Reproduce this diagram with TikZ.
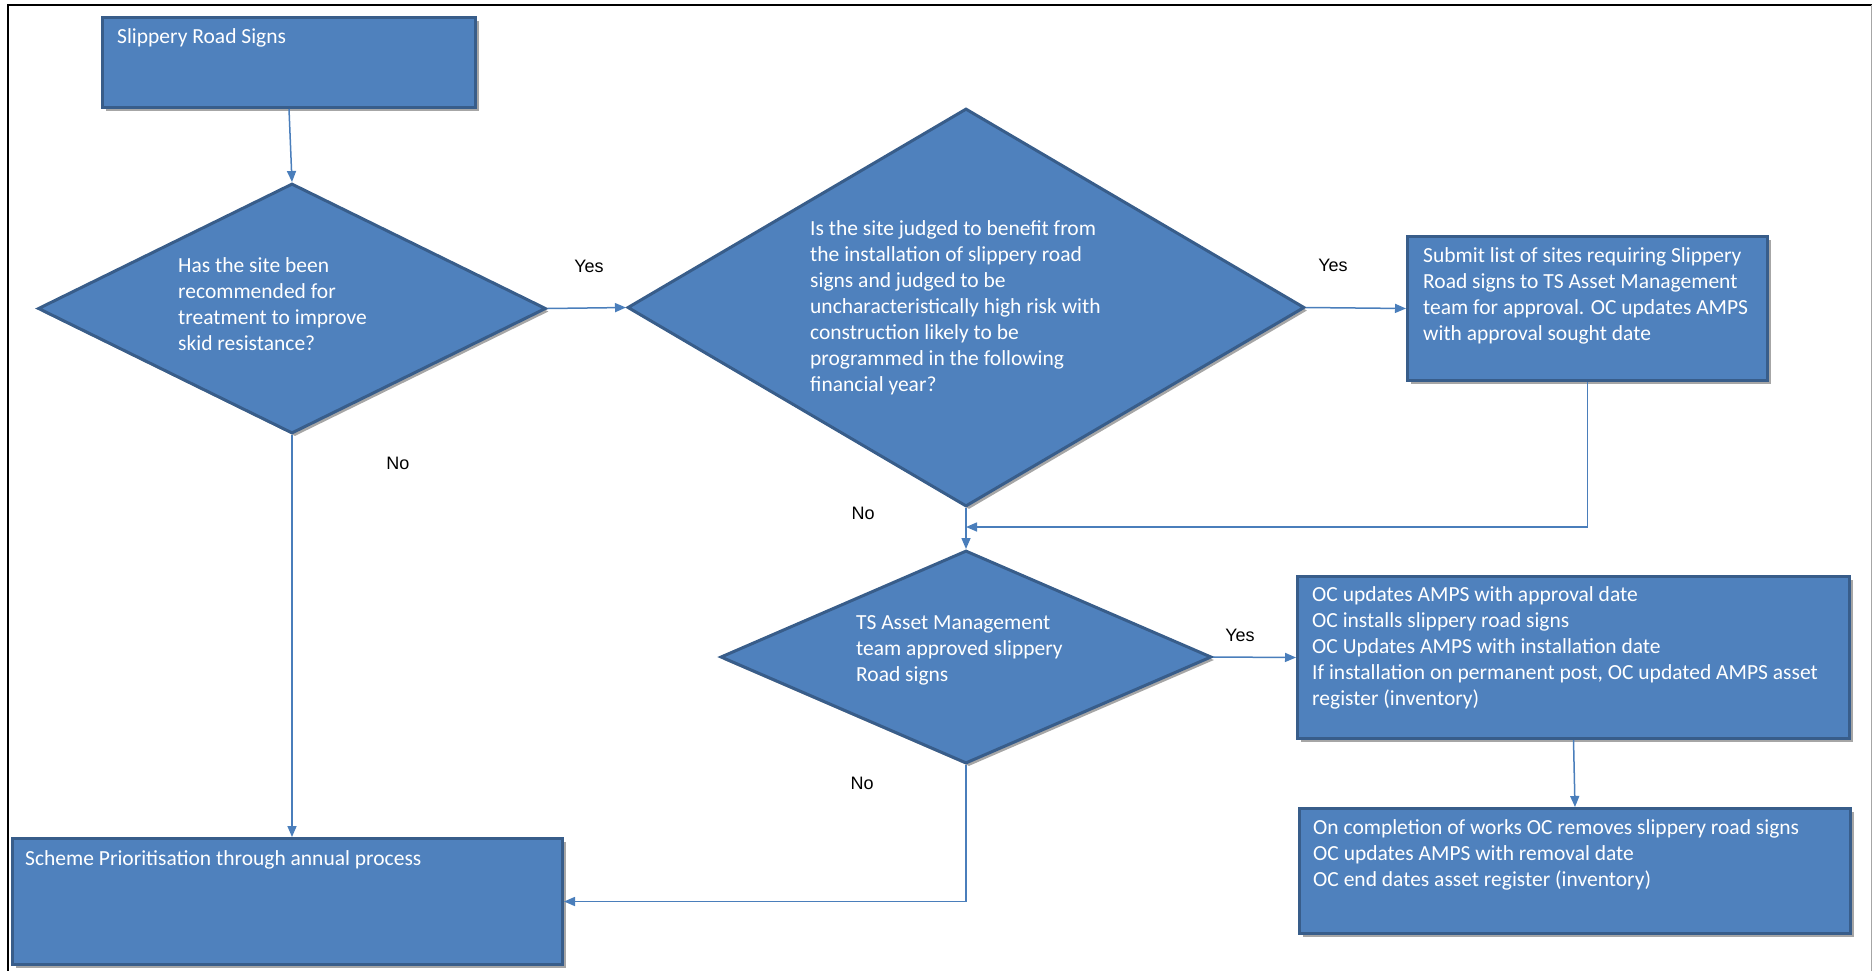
\documentclass[tikz,border=0pt]{standalone}
\usepackage{fontspec}
\setmainfont{Carlito}
\newfontfamily\arialfont{Liberation Sans}
\usetikzlibrary{shapes.geometric,arrows.meta,shadows}
\definecolor{ofill}{HTML}{4F81BD}
\definecolor{oborder}{HTML}{385D8A}
\definecolor{oline}{HTML}{4A7EBB}
\tikzset{
  shbox/.style={draw=oborder, fill=ofill, line width=3pt, inner sep=0pt,
    drop shadow={shadow xshift=3pt, shadow yshift=-3pt, opacity=0.35, fill=black}},
  rbox/.style={shbox, rectangle},
  dbox/.style={shbox, diamond},
  btext/.style={text=white, inner sep=0pt, align=left, anchor=north west,
    font=\fontsize{21.5}{26}\selectfont},
  lab/.style={inner sep=0pt, font=\arialfont\fontsize{18}{20}\selectfont},
  arr/.style={draw=oline, line width=1.5pt, -{Triangle[length=11pt,width=9pt,fill=oline]}},
}
\begin{document}
\begin{tikzpicture}[x=1pt,y=-1pt]
\useasboundingbox (0,0) rectangle (1872,970);
% frame
\draw[black, line width=2.5pt] (8,972) -- (8,5) -- (1872,5);
\draw[black!35, line width=1pt] (1871,5) -- (1871,972);

% boxes
\node[rbox, minimum width=373pt, minimum height=90pt] (b1) at (289,62.5) {};
\node[btext] (t1) at (117,28) {Slippery Road Signs};

\node[dbox, minimum width=508pt, minimum height=250pt] (d1) at (292,308.5) {};
\node[btext] (td1) at (178,257) {Has the site been\\recommended for\\treatment to improve\\skid resistance?};

\node[dbox, minimum width=677pt, minimum height=398pt] (d2) at (966,307.5) {};
\node[btext] (td2) at (810,220) {Is the site judged to benefit from\\the installation of slippery road\\signs and judged to be\\uncharacteristically high risk with\\construction likely to be\\programmed in the following\\financial year?};

\node[rbox, minimum width=360pt, minimum height=144pt] (bs) at (1587.5,308.5) {};
\node[btext] (ts) at (1423,247) {Submit list of sites requiring Slippery\\Road signs to TS Asset Management\\team for approval. OC updates AMPS\\with approval sought date};

\node[dbox, minimum width=491pt, minimum height=213pt] (d3) at (966,657) {};
\node[btext] (td3) at (856,615) {TS Asset Management\\team approved slippery\\Road signs};

\node[rbox, minimum width=552pt, minimum height=162pt] (bo) at (1573.5,657.5) {};
\node[btext] (to) at (1312,586) {OC updates AMPS with approval date\\OC installs slippery road signs\\OC Updates AMPS with installation date\\If installation on permanent post, OC updated AMPS asset\\register (inventory)};

\node[rbox, minimum width=551pt, minimum height=125pt] (br) at (1575,871) {};
\node[btext] (tr) at (1313,819) {On completion of works OC removes slippery road signs\\OC updates AMPS with removal date\\OC end dates asset register (inventory)};

\node[rbox, minimum width=550pt, minimum height=126pt] (bp) at (287.5,901.5) {};
\node[btext] (tp) at (25,850) {Scheme Prioritisation through annual process};

% labels
\node[lab] (y1) at (589,266) {Yes};
\node[lab] (y2) at (1333,265) {Yes};
\node[lab] (y3) at (1240,635) {Yes};
\node[lab] (n1) at (398,463) {No};
\node[lab] (n2) at (863,513) {No};
\node[lab] (n3) at (862,783) {No};

% connectors
\coordinate (m) at (966,527);
\draw[arr] (b1.south) -- (d1.north);
\draw[arr] (d1.east) -- (d2.west);
\draw[arr] (d2.east) -- (bs.west);
\draw[arr] (bs.south) |- (m);
\draw[arr] (d2.south) -- (d3.north);
\draw[arr] (d3.east) -- (bo.west);
\draw[arr] (bo.south) -- (br.north);
\draw[arr] (d1.south) -- (d1.south |- bp.north);
\draw[arr] (d3.south) |- (bp.east);
\end{tikzpicture}
\end{document}
